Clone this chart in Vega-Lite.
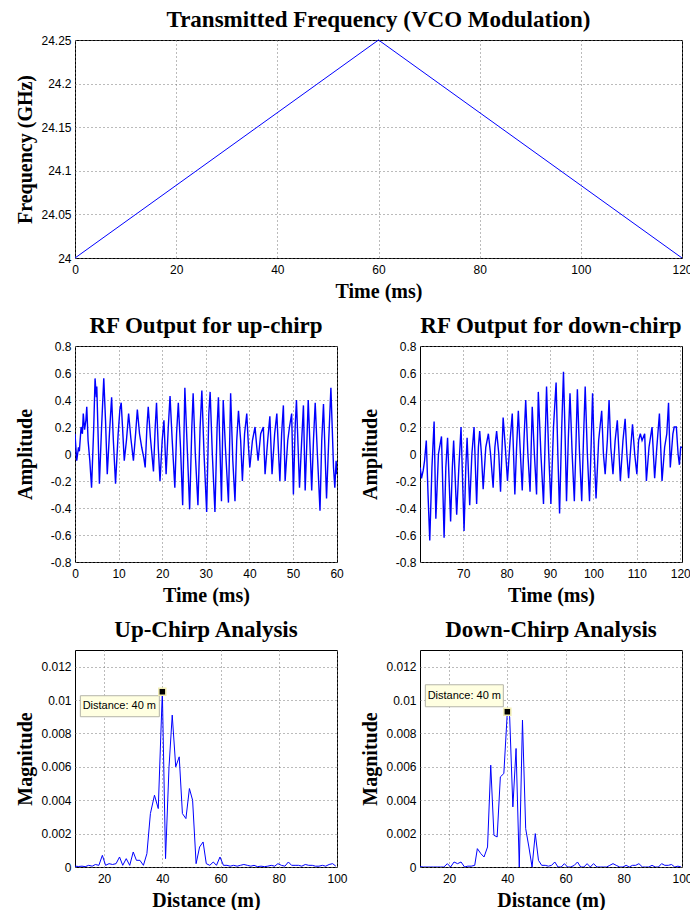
{
  "$schema": "https://vega.github.io/schema/vega-lite/v6.json",
  "padding": {"left": 14, "top": 8, "right": 0, "bottom": 5},
  "background": "white",
  "spacing": 12,
  "datasets": {
    "vco": [
      {"t": 0, "f": 24.0},
      {"t": 60, "f": 24.25},
      {"t": 120, "f": 24.0}
    ],
    "upRF": [
      {"t": 0, "a": 0.15}, {"t": 0.4, "a": -0.05}, {"t": 0.8, "a": 0.05}, {"t": 1.0, "a": 0.02},
      {"t": 1.4, "a": 0.2}, {"t": 1.7, "a": 0.15}, {"t": 1.9, "a": 0.3}, {"t": 2.2, "a": 0.18},
      {"t": 2.5, "a": 0.25}, {"t": 2.7, "a": 0.35}, {"t": 3.0, "a": 0.1}, {"t": 3.4, "a": -0.05},
      {"t": 3.8, "a": -0.25}, {"t": 4.3, "a": 0.2}, {"t": 4.6, "a": 0.56}, {"t": 4.9, "a": 0.42},
      {"t": 5.0, "a": 0.5}, {"t": 5.6, "a": -0.22}, {"t": 6.1, "a": 0.2}, {"t": 6.6, "a": 0.56},
      {"t": 7.0, "a": 0.25}, {"t": 7.4, "a": -0.15}, {"t": 7.9, "a": 0.15}, {"t": 8.4, "a": 0.42},
      {"t": 8.8, "a": 0.1}, {"t": 9.3, "a": -0.22}, {"t": 9.9, "a": 0.15}, {"t": 10.3, "a": 0.33},
      {"t": 10.6, "a": 0.38}, {"t": 10.9, "a": 0.2}, {"t": 11.3, "a": -0.05}, {"t": 11.8, "a": 0.1},
      {"t": 12.3, "a": 0.3}, {"t": 12.8, "a": 0.12}, {"t": 13.4, "a": -0.05}, {"t": 13.9, "a": 0.15},
      {"t": 14.3, "a": 0.33}, {"t": 14.8, "a": 0.15}, {"t": 15.3, "a": 0.05}, {"t": 15.8, "a": -0.03},
      {"t": 16.1, "a": -0.1}, {"t": 16.5, "a": 0.2}, {"t": 16.8, "a": 0.35}, {"t": 17.3, "a": 0.12},
      {"t": 18.0, "a": -0.13}, {"t": 18.4, "a": 0.2}, {"t": 18.7, "a": 0.38}, {"t": 19.1, "a": 0.05},
      {"t": 19.5, "a": -0.2}, {"t": 20.0, "a": 0.1}, {"t": 20.4, "a": 0.25}, {"t": 20.9, "a": -0.15},
      {"t": 21.4, "a": 0.2}, {"t": 21.8, "a": 0.43}, {"t": 22.3, "a": 0.1}, {"t": 22.9, "a": -0.25},
      {"t": 23.3, "a": 0.15}, {"t": 23.7, "a": 0.38}, {"t": 24.2, "a": 0.05}, {"t": 24.7, "a": -0.38},
      {"t": 25.2, "a": 0.49}, {"t": 25.8, "a": 0.0}, {"t": 26.3, "a": -0.41}, {"t": 26.8, "a": 0.2},
      {"t": 27.1, "a": 0.45}, {"t": 27.6, "a": 0.0}, {"t": 28.2, "a": -0.38}, {"t": 28.7, "a": 0.2},
      {"t": 29.1, "a": 0.47}, {"t": 29.6, "a": 0.0}, {"t": 30.2, "a": -0.43}, {"t": 30.7, "a": 0.3},
      {"t": 31.0, "a": 0.46}, {"t": 31.5, "a": 0.0}, {"t": 32.1, "a": -0.43}, {"t": 32.6, "a": 0.2},
      {"t": 32.9, "a": 0.42}, {"t": 33.2, "a": 0.1}, {"t": 33.6, "a": -0.35}, {"t": 34.0, "a": 0.4},
      {"t": 34.5, "a": 0.05}, {"t": 35.2, "a": -0.36}, {"t": 35.7, "a": 0.45}, {"t": 36.2, "a": -0.05},
      {"t": 36.7, "a": -0.35}, {"t": 37.1, "a": 0.1}, {"t": 37.5, "a": 0.32}, {"t": 38.0, "a": 0.1},
      {"t": 38.4, "a": -0.2}, {"t": 38.9, "a": 0.15}, {"t": 39.4, "a": 0.3}, {"t": 39.8, "a": 0.05},
      {"t": 40.1, "a": -0.1}, {"t": 40.7, "a": 0.1}, {"t": 41.3, "a": 0.2}, {"t": 41.7, "a": 0.05},
      {"t": 42.0, "a": -0.05}, {"t": 42.6, "a": 0.15}, {"t": 43.2, "a": 0.2}, {"t": 43.6, "a": -0.15},
      {"t": 44.2, "a": 0.1}, {"t": 44.7, "a": 0.28}, {"t": 45.2, "a": -0.15}, {"t": 45.8, "a": 0.15},
      {"t": 46.3, "a": 0.3}, {"t": 46.7, "a": 0.0}, {"t": 47.0, "a": -0.2}, {"t": 47.4, "a": 0.15},
      {"t": 47.8, "a": 0.36}, {"t": 48.2, "a": -0.2}, {"t": 48.8, "a": 0.1}, {"t": 49.2, "a": 0.2},
      {"t": 49.7, "a": 0.3}, {"t": 50.1, "a": -0.3}, {"t": 50.5, "a": 0.2}, {"t": 50.8, "a": 0.4},
      {"t": 51.5, "a": -0.25}, {"t": 52.0, "a": 0.1}, {"t": 52.4, "a": 0.36}, {"t": 52.8, "a": -0.27},
      {"t": 53.2, "a": 0.1}, {"t": 53.5, "a": 0.4}, {"t": 54.3, "a": -0.27}, {"t": 54.7, "a": 0.1},
      {"t": 55.1, "a": 0.38}, {"t": 55.6, "a": 0.0}, {"t": 56.2, "a": -0.42}, {"t": 56.6, "a": 0.1},
      {"t": 57.0, "a": 0.37}, {"t": 57.7, "a": -0.33}, {"t": 58.2, "a": 0.1}, {"t": 58.7, "a": 0.49},
      {"t": 59.0, "a": 0.2}, {"t": 59.3, "a": -0.1}, {"t": 59.6, "a": -0.25}, {"t": 59.9, "a": -0.05},
      {"t": 60.1, "a": -0.15}
    ],
    "downRF": [
      {"t": 60.1, "a": -0.1}, {"t": 60.4, "a": -0.18}, {"t": 60.8, "a": -0.12}, {"t": 61.1, "a": -0.05},
      {"t": 61.5, "a": 0.1}, {"t": 61.9, "a": -0.3}, {"t": 62.3, "a": -0.64}, {"t": 62.8, "a": -0.1},
      {"t": 63.3, "a": 0.24}, {"t": 63.7, "a": -0.48}, {"t": 64.3, "a": 0.0}, {"t": 65.0, "a": 0.13},
      {"t": 65.6, "a": -0.62}, {"t": 66.0, "a": -0.1}, {"t": 66.4, "a": 0.12}, {"t": 67.1, "a": -0.5},
      {"t": 67.5, "a": -0.1}, {"t": 67.8, "a": 0.1}, {"t": 68.5, "a": -0.45}, {"t": 69.0, "a": -0.1},
      {"t": 69.5, "a": 0.2}, {"t": 70.2, "a": -0.57}, {"t": 70.6, "a": -0.1}, {"t": 70.9, "a": 0.12},
      {"t": 71.5, "a": -0.38}, {"t": 72.0, "a": 0.0}, {"t": 72.5, "a": 0.2}, {"t": 73.1, "a": -0.37},
      {"t": 73.5, "a": 0.05}, {"t": 73.8, "a": 0.17}, {"t": 74.2, "a": 0.0}, {"t": 74.6, "a": -0.26},
      {"t": 75.2, "a": 0.05}, {"t": 75.8, "a": 0.15}, {"t": 76.3, "a": 0.0}, {"t": 76.9, "a": -0.25},
      {"t": 77.3, "a": 0.05}, {"t": 77.7, "a": 0.17}, {"t": 78.2, "a": 0.0}, {"t": 78.6, "a": -0.28},
      {"t": 79.2, "a": 0.27}, {"t": 79.7, "a": 0.05}, {"t": 80.2, "a": -0.2}, {"t": 80.8, "a": 0.1},
      {"t": 81.3, "a": 0.3}, {"t": 81.9, "a": -0.3}, {"t": 82.3, "a": 0.05}, {"t": 82.7, "a": 0.32},
      {"t": 83.1, "a": 0.05}, {"t": 83.6, "a": -0.27}, {"t": 84.0, "a": 0.1}, {"t": 84.4, "a": 0.4},
      {"t": 84.9, "a": 0.0}, {"t": 85.4, "a": -0.28}, {"t": 85.9, "a": 0.35}, {"t": 86.4, "a": 0.0},
      {"t": 86.9, "a": -0.3}, {"t": 87.3, "a": 0.46}, {"t": 87.9, "a": 0.0}, {"t": 88.5, "a": -0.37},
      {"t": 89.2, "a": 0.5}, {"t": 89.7, "a": 0.0}, {"t": 90.2, "a": -0.37}, {"t": 90.8, "a": 0.2},
      {"t": 91.4, "a": 0.53}, {"t": 91.8, "a": 0.0}, {"t": 92.2, "a": -0.44}, {"t": 92.7, "a": 0.2},
      {"t": 93.1, "a": 0.61}, {"t": 93.5, "a": 0.1}, {"t": 93.8, "a": -0.35}, {"t": 94.2, "a": 0.1},
      {"t": 94.6, "a": 0.45}, {"t": 95.1, "a": 0.0}, {"t": 95.6, "a": -0.35}, {"t": 96.0, "a": 0.1},
      {"t": 96.3, "a": 0.48}, {"t": 96.8, "a": 0.0}, {"t": 97.3, "a": -0.35}, {"t": 97.7, "a": 0.1},
      {"t": 98.1, "a": 0.5}, {"t": 98.6, "a": 0.0}, {"t": 99.1, "a": -0.35}, {"t": 99.5, "a": 0.1},
      {"t": 99.8, "a": 0.45}, {"t": 100.2, "a": 0.0}, {"t": 100.6, "a": -0.33}, {"t": 101.2, "a": 0.1},
      {"t": 101.9, "a": 0.32}, {"t": 102.3, "a": 0.0}, {"t": 102.7, "a": -0.15}, {"t": 103.2, "a": 0.1},
      {"t": 103.6, "a": 0.4}, {"t": 104.0, "a": 0.05}, {"t": 104.5, "a": -0.15}, {"t": 105.0, "a": 0.1},
      {"t": 105.5, "a": 0.25}, {"t": 105.9, "a": 0.0}, {"t": 106.2, "a": -0.2}, {"t": 106.8, "a": 0.1},
      {"t": 107.3, "a": 0.26}, {"t": 107.7, "a": 0.0}, {"t": 108.1, "a": -0.18}, {"t": 108.6, "a": 0.05},
      {"t": 109.0, "a": 0.22}, {"t": 109.5, "a": 0.0}, {"t": 110.0, "a": -0.15}, {"t": 110.4, "a": 0.1},
      {"t": 110.8, "a": 0.15}, {"t": 111.2, "a": 0.1}, {"t": 111.8, "a": 0.15}, {"t": 112.2, "a": -0.2},
      {"t": 112.8, "a": 0.05}, {"t": 113.5, "a": 0.2}, {"t": 114.1, "a": -0.18}, {"t": 114.6, "a": 0.05},
      {"t": 115.2, "a": 0.3}, {"t": 115.8, "a": -0.2}, {"t": 116.4, "a": 0.05}, {"t": 116.9, "a": 0.15},
      {"t": 117.3, "a": 0.38}, {"t": 117.7, "a": -0.1}, {"t": 118.3, "a": 0.15}, {"t": 118.6, "a": 0.2},
      {"t": 119.1, "a": 0.2}, {"t": 119.5, "a": 0.0}, {"t": 119.8, "a": -0.08}, {"t": 120.1, "a": 0.05},
      {"t": 120.4, "a": 0.05}
    ],
    "upSpec": [
      {"d": 10.0, "m": 0.00005}, {"d": 11.2, "m": 0.00003}, {"d": 12.4, "m": 0.00005}, {"d": 13.5, "m": 0.00002},
      {"d": 14.7, "m": 0.0001}, {"d": 15.9, "m": 0.00005}, {"d": 17.0, "m": 0.00015}, {"d": 18.2, "m": 0.0001},
      {"d": 19.4, "m": 0.0007}, {"d": 20.5, "m": 0.0001}, {"d": 21.7, "m": 0.0002}, {"d": 22.9, "m": 0.00015},
      {"d": 24.1, "m": 0.0002}, {"d": 25.3, "m": 0.0006}, {"d": 26.4, "m": 0.0001}, {"d": 27.6, "m": 0.0005},
      {"d": 28.8, "m": 0.0001}, {"d": 30.0, "m": 0.0009}, {"d": 31.1, "m": 0.0004}, {"d": 32.3, "m": 0.0004},
      {"d": 33.5, "m": 0.0001}, {"d": 34.7, "m": 0.0008}, {"d": 35.9, "m": 0.0032}, {"d": 37.3, "m": 0.0043},
      {"d": 38.6, "m": 0.0035}, {"d": 40.0, "m": 0.0105}, {"d": 41.1, "m": 0.0005}, {"d": 42.3, "m": 0.006},
      {"d": 43.4, "m": 0.0091}, {"d": 44.6, "m": 0.006}, {"d": 45.8, "m": 0.0066}, {"d": 46.9, "m": 0.0032},
      {"d": 48.1, "m": 0.0029}, {"d": 49.3, "m": 0.0047}, {"d": 50.4, "m": 0.004}, {"d": 51.6, "m": 0.0002},
      {"d": 52.8, "m": 0.0012}, {"d": 54.0, "m": 0.0015}, {"d": 55.1, "m": 0.0002}, {"d": 56.3, "m": 0.0001},
      {"d": 57.5, "m": 0.0003}, {"d": 58.6, "m": 0.0001}, {"d": 59.8, "m": 0.0006}, {"d": 61.0, "m": 0.0001},
      {"d": 62.2, "m": 0.0001}, {"d": 63.3, "m": 0.00005}, {"d": 64.5, "m": 0.0001}, {"d": 65.7, "m": 0.00005},
      {"d": 66.8, "m": 0.0001}, {"d": 68.0, "m": 0.00015}, {"d": 69.2, "m": 0.0001}, {"d": 70.4, "m": 0.00005},
      {"d": 71.5, "m": 0.0001}, {"d": 72.7, "m": 0.00002}, {"d": 73.9, "m": 0.00005}, {"d": 75.1, "m": 0.00002},
      {"d": 76.2, "m": 0.00005}, {"d": 77.4, "m": 0.0001}, {"d": 78.6, "m": 0.00005}, {"d": 79.7, "m": 0.0002},
      {"d": 80.9, "m": 0.0001}, {"d": 82.1, "m": 0.00005}, {"d": 83.3, "m": 0.0003}, {"d": 84.4, "m": 0.0001},
      {"d": 85.6, "m": 0.0001}, {"d": 86.8, "m": 0.0001}, {"d": 87.9, "m": 0.00005}, {"d": 89.1, "m": 0.00015},
      {"d": 90.3, "m": 0.0001}, {"d": 91.5, "m": 0.0001}, {"d": 92.6, "m": 0.00005}, {"d": 93.8, "m": 0.00005},
      {"d": 95.0, "m": 0.0001}, {"d": 96.1, "m": 0.00005}, {"d": 97.3, "m": 0.00015}, {"d": 98.5, "m": 0.0002},
      {"d": 99.6, "m": 0.00005}
    ],
    "downSpec": [
      {"d": 10.0, "m": 0.00002}, {"d": 11.2, "m": 0.0}, {"d": 12.4, "m": 0.0}, {"d": 13.5, "m": 0.0},
      {"d": 14.7, "m": 0.0}, {"d": 15.9, "m": 0.0}, {"d": 17.0, "m": 0.0}, {"d": 18.2, "m": 0.0},
      {"d": 19.4, "m": 0.0002}, {"d": 20.5, "m": 0.0}, {"d": 21.7, "m": 0.0003}, {"d": 22.9, "m": 0.0002},
      {"d": 24.1, "m": 0.0003}, {"d": 25.3, "m": 0.0}, {"d": 26.4, "m": 0.00005}, {"d": 27.6, "m": 0.00005},
      {"d": 28.8, "m": 0.0001}, {"d": 29.7, "m": 0.0011}, {"d": 30.9, "m": 0.0008}, {"d": 32.0, "m": 0.0006},
      {"d": 33.2, "m": 0.0012}, {"d": 34.3, "m": 0.0061}, {"d": 35.4, "m": 0.0019}, {"d": 36.5, "m": 0.0018},
      {"d": 37.6, "m": 0.0054}, {"d": 38.8, "m": 0.0056}, {"d": 40.0, "m": 0.0093}, {"d": 40.8, "m": 0.009},
      {"d": 41.9, "m": 0.0036}, {"d": 43.0, "m": 0.0071}, {"d": 44.1, "m": 0.0}, {"d": 45.2, "m": 0.0088},
      {"d": 46.3, "m": 0.0023}, {"d": 47.4, "m": 0.0012}, {"d": 48.5, "m": 0.0}, {"d": 49.6, "m": 0.002},
      {"d": 50.7, "m": 0.0004}, {"d": 51.8, "m": 0.0001}, {"d": 53.0, "m": 0.0001}, {"d": 54.1, "m": 0.00005},
      {"d": 55.2, "m": 0.0001}, {"d": 56.3, "m": 0.0003}, {"d": 57.4, "m": 0.0}, {"d": 58.5, "m": 0.0},
      {"d": 59.6, "m": 0.0002}, {"d": 60.7, "m": 0.0}, {"d": 61.8, "m": 0.0}, {"d": 63.0, "m": 0.0001},
      {"d": 64.1, "m": 0.0003}, {"d": 65.2, "m": 0.0}, {"d": 66.3, "m": 0.0}, {"d": 67.4, "m": 0.0002},
      {"d": 68.5, "m": 0.0}, {"d": 69.6, "m": 0.0002}, {"d": 70.8, "m": 0.0}, {"d": 71.9, "m": 0.0},
      {"d": 73.0, "m": 0.0}, {"d": 74.1, "m": 0.0}, {"d": 75.2, "m": 0.0001}, {"d": 76.3, "m": 0.0002},
      {"d": 77.4, "m": 0.0001}, {"d": 78.6, "m": 0.0}, {"d": 79.7, "m": 0.0}, {"d": 80.8, "m": 0.0001},
      {"d": 81.9, "m": 0.0}, {"d": 83.0, "m": 0.0001}, {"d": 84.1, "m": 0.0001}, {"d": 85.2, "m": 0.0002},
      {"d": 86.4, "m": 0.0}, {"d": 87.5, "m": 0.0}, {"d": 88.6, "m": 0.0}, {"d": 89.7, "m": 0.0001},
      {"d": 90.8, "m": 0.0}, {"d": 91.9, "m": 0.0}, {"d": 93.0, "m": 0.0002}, {"d": 94.1, "m": 0.0001},
      {"d": 95.3, "m": 0.0001}, {"d": 96.4, "m": 0.00015}, {"d": 97.5, "m": 0.0}, {"d": 98.6, "m": 0.00005},
      {"d": 99.7, "m": 0.0}
    ],
    "upPeak": [{"d": 40, "m": 0.0105, "label": "Distance: 40 m"}],
    "downPeak": [{"d": 40, "m": 0.0093, "label": "Distance: 40 m"}]
  },
  "vconcat": [
    {
      "title": "Transmitted Frequency (VCO Modulation)",
      "width": 607,
      "height": 218,
      "data": {"name": "vco"},
      "mark": {"type": "line", "color": "#0000ff", "strokeWidth": 1},
      "encoding": {
        "x": {"field": "t", "type": "quantitative", "scale": {"domain": [0, 120], "nice": false},
              "axis": {"values": [0, 20, 40, 60, 80, 100, 120], "title": "Time (ms)"}},
        "y": {"field": "f", "type": "quantitative", "scale": {"domain": [24, 24.25], "nice": false, "zero": false},
              "axis": {"values": [24, 24.05, 24.1, 24.15, 24.2, 24.25], "title": "Frequency (GHz)"}}
      }
    },
    {
      "bounds": "flush",
      "spacing": 83,
      "hconcat": [
        {
          "title": "RF Output for up-chirp",
          "width": 262,
          "height": 216,
          "data": {"name": "upRF"},
          "mark": {"type": "line", "color": "#0000ff", "strokeWidth": 1.4, "clip": true},
          "encoding": {
            "x": {"field": "t", "type": "quantitative", "scale": {"domain": [0, 60.1], "nice": false},
                  "axis": {"values": [0, 10, 20, 30, 40, 50, 60], "title": "Time (ms)"}},
            "y": {"field": "a", "type": "quantitative", "scale": {"domain": [-0.8, 0.8], "nice": false},
                  "axis": {"values": [-0.8, -0.6, -0.4, -0.2, 0, 0.2, 0.4, 0.6, 0.8], "title": "Amplitude"}}
          }
        },
        {
          "title": "RF Output for down-chirp",
          "width": 262,
          "height": 216,
          "data": {"name": "downRF"},
          "mark": {"type": "line", "color": "#0000ff", "strokeWidth": 1.4, "clip": true},
          "encoding": {
            "x": {"field": "t", "type": "quantitative", "scale": {"domain": [60.05, 120.4], "nice": false, "zero": false},
                  "axis": {"values": [70, 80, 90, 100, 110, 120], "title": "Time (ms)"}},
            "y": {"field": "a", "type": "quantitative", "scale": {"domain": [-0.8, 0.8], "nice": false},
                  "axis": {"values": [-0.8, -0.6, -0.4, -0.2, 0, 0.2, 0.4, 0.6, 0.8], "title": "Amplitude"}}
          }
        }
      ]
    },
    {
      "bounds": "flush",
      "spacing": 83,
      "hconcat": [
        {
          "title": {"text": "Up-Chirp Analysis", "offset": 8},
          "width": 262,
          "height": 217,
          "encoding": {
            "x": {"field": "d", "type": "quantitative", "scale": {"domain": [10, 100], "nice": false, "zero": false},
                  "axis": {"values": [20, 40, 60, 80, 100], "title": "Distance (m)"}},
            "y": {"field": "m", "type": "quantitative", "scale": {"domain": [0, 0.013], "nice": false},
                  "axis": {"values": [0, 0.002, 0.004, 0.006, 0.008, 0.01, 0.012], "title": "Magnitude"}}
          },
          "layer": [
            {"data": {"name": "upSpec"}, "mark": {"type": "line", "color": "#0000ff", "strokeWidth": 1, "clip": true}},
            {"data": {"name": "upPeak"},
             "mark": {"type": "point", "shape": "M -82 4 H -3 V 25 H -82 Z", "size": 4, "filled": true,
                      "fill": "#ffffe1", "stroke": "#b4b4a8", "strokeWidth": 1, "opacity": 1}},
            {"data": {"name": "upPeak"},
             "mark": {"type": "text", "dx": -43, "dy": 14, "align": "center", "baseline": "middle",
                      "font": "Liberation Sans", "fontSize": 11, "color": "#000"},
             "encoding": {"text": {"field": "label"}}},
            {"data": {"name": "upPeak"},
             "mark": {"type": "point", "shape": "square", "size": 49, "filled": true, "fill": "#000",
                      "stroke": "#f2eeb4", "strokeWidth": 1.5, "opacity": 1}}
          ]
        },
        {
          "title": {"text": "Down-Chirp Analysis", "offset": 8},
          "width": 262,
          "height": 217,
          "encoding": {
            "x": {"field": "d", "type": "quantitative", "scale": {"domain": [10, 100], "nice": false, "zero": false},
                  "axis": {"values": [20, 40, 60, 80, 100], "title": "Distance (m)"}},
            "y": {"field": "m", "type": "quantitative", "scale": {"domain": [0, 0.013], "nice": false},
                  "axis": {"values": [0, 0.002, 0.004, 0.006, 0.008, 0.01, 0.012], "title": "Magnitude"}}
          },
          "layer": [
            {"data": {"name": "downSpec"}, "mark": {"type": "line", "color": "#0000ff", "strokeWidth": 1, "clip": true}},
            {"data": {"name": "downPeak"},
             "mark": {"type": "point", "shape": "M -82 -27 H -4 V -5 H -82 Z", "size": 4, "filled": true,
                      "fill": "#ffffe1", "stroke": "#b4b4a8", "strokeWidth": 1, "opacity": 1}},
            {"data": {"name": "downPeak"},
             "mark": {"type": "text", "dx": -43, "dy": -16, "align": "center", "baseline": "middle",
                      "font": "Liberation Sans", "fontSize": 11, "color": "#000"},
             "encoding": {"text": {"field": "label"}}},
            {"data": {"name": "downPeak"},
             "mark": {"type": "point", "shape": "square", "size": 49, "filled": true, "fill": "#000",
                      "stroke": "#f2eeb4", "strokeWidth": 1.5, "opacity": 1}}
          ]
        }
      ]
    }
  ],
  "config": {
    "view": {"stroke": "#000", "strokeWidth": 1},
    "axis": {
      "grid": true, "gridDash": [1, 3], "gridColor": "#777", "gridOpacity": 1, "gridWidth": 1,
      "domain": false, "ticks": false,
      "labelFont": "Liberation Sans", "labelFontSize": 12, "labelColor": "#000",
      "labelFlush": false, "labelOverlap": false, "labelBound": false,
      "labelExpr": "datum.value + ''",
      "titleFont": "Liberation Serif", "titleFontSize": 20, "titleFontWeight": "bold", "titleColor": "#000"
    },
    "axisX": {"titlePadding": 6, "labelPadding": 6},
    "axisY": {"titlePadding": 4, "labelPadding": 4, "minExtent": 36, "maxExtent": 36},
    "title": {"font": "Liberation Serif", "fontSize": 23, "fontWeight": "bold", "color": "#000",
              "offset": 2, "anchor": "middle", "frame": "group"}
  }
}
